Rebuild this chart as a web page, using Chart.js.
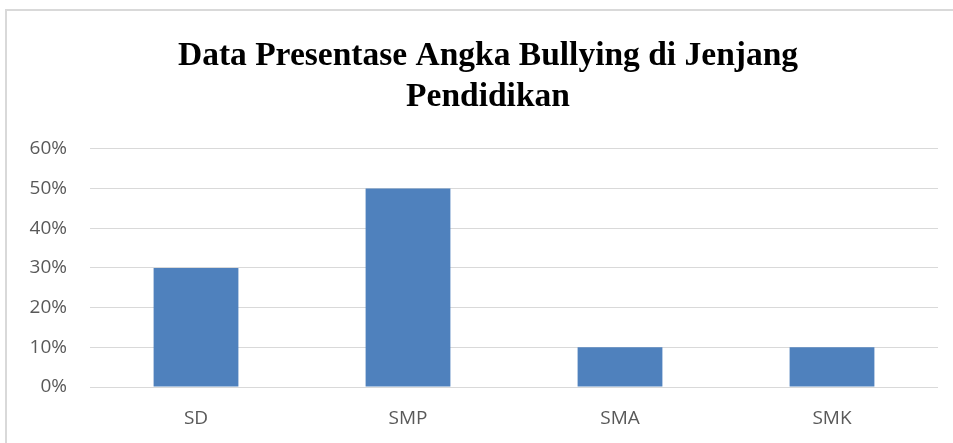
<!DOCTYPE html>
<html>
<head>
<meta charset="utf-8">
<script src="https://cdn.jsdelivr.net/npm/chart.js@4/dist/chart.umd.min.js"></script>
<style>
  html, body { margin: 0; padding: 0; background: #fff; overflow: hidden; }
  #wrap { position: relative; width: 953px; height: 443px; }
  #frame { position: absolute; left: 5px; top: 9px; width: 1000px; height: 1000px; border: 2px solid #d9d9d9; box-sizing: border-box; }
  canvas { position: absolute; left: 0; top: 0; }
</style>
</head>
<body>
<div id="wrap">
  <div id="frame"></div>
  <canvas id="c" width="953" height="443"></canvas>
</div>
<script>
const categories = ["SD", "SMP", "SMA", "SMK"];
const values = [30, 50, 10, 10];
const titleLines = ["Data Presentase Angka Bullying di Jenjang", "Pendidikan"];
const yTicks = [0, 10, 20, 30, 40, 50, 60];

new Chart(document.getElementById("c"), {
  type: "bar",
  data: {
    labels: categories,
    datasets: [{
      data: values,
      backgroundColor: "#4F81BD",
      borderWidth: 0,
      categoryPercentage: 0.4,
      barPercentage: 1.0,
      yAxisID: "y"
    }]
  },
  options: {
    responsive: false,
    animation: false,
    layout: { padding: { left: 23, right: 0, top: 0, bottom: 0 } },
    plugins: {
      legend: { display: false },
      tooltip: { enabled: false },
      title: {
        display: true,
        text: titleLines,
        color: "#000",
        font: { family: "'Liberation Serif', serif", size: 33.5, weight: "bold", lineHeight: 1.25 },
        padding: { top: 35, bottom: 30 }
      }
    },
    scales: {
      x: {
        grid: { display: false, drawTicks: false },
        border: { display: false },
        ticks: { color: "#595959", font: { family: "'Open Sans', sans-serif", size: 19 }, padding: 20 },
        afterFit: (s) => { s.height = 56; }
      },
      y: {
        min: 0, max: 60,
        afterBuildTicks: (s) => { s.ticks = yTicks.map(v => ({ value: v })); },
        grid: { color: "#d9d9d9", lineWidth: 1, drawTicks: false },
        border: { display: false },
        ticks: {
          color: "#595959",
          font: { family: "'Open Sans', sans-serif", size: 19 },
          padding: 23,
          callback: (v) => v + "%"
        },
        afterFit: (s) => { s.width = 67; }
      },
      yRight: {
        type: "linear",
        axis: "y",
        position: "right",
        display: true,
        grid: { display: false, drawTicks: false },
        border: { display: false },
        ticks: { display: false },
        afterFit: (s) => { s.width = 15; }
      }
    }
  }
});
</script>
</body>
</html>
